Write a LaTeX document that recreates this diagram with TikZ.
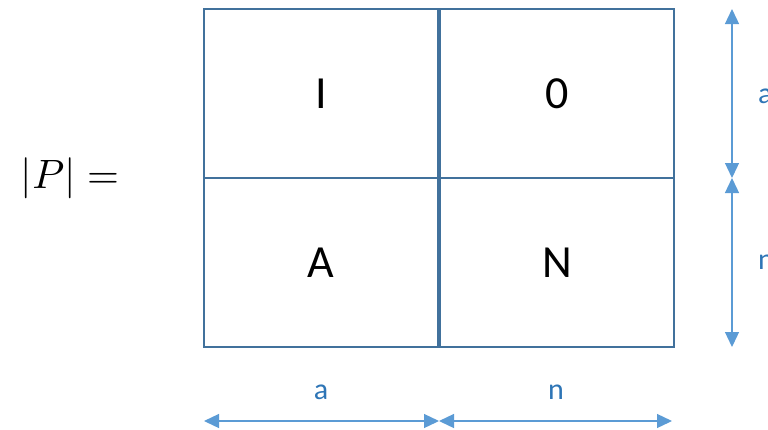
\documentclass[tikz,border=0pt]{standalone}
\usepackage{graphicx}
\usepackage{fontspec}
\setmainfont{Carlito}
\usetikzlibrary{arrows.meta}
\definecolor{boxc}{HTML}{41719C}
\definecolor{arrc}{HTML}{5B9BD5}
\definecolor{labc}{HTML}{2E75B6}
\tikzset{
  cell/.style={draw=boxc,line width=1.3pt,minimum width=234pt,minimum height=169pt,inner sep=0pt,
    font=\fontsize{46}{50}\selectfont,text=black},
  dim/.style={draw=arrc,line width=1.3pt,{Triangle[length=15pt,width=14pt]}-{Triangle[length=15pt,width=14pt]}},
  dimlab/.style={text=labc,font=\fontsize{30}{34}\selectfont,inner sep=0pt}
}
\begin{document}
\begin{tikzpicture}[x=1pt,y=-1pt]
\useasboundingbox (0,0) rectangle (768,429);
\node[cell] (c11) at (321,93.5) {I};
\node[cell] (c12) at (557,93.5) {0};
\node[cell] (c21) at (321,262.5) {A};
\node[cell] (c22) at (557,262.5) {N};
\node[inner sep=0pt] (p) at (70,178) {\scalebox{4.1}{$|P| =$}};
% vertical dimensions
\coordinate (v1) at (732,9);
\coordinate (v2) at (732,178);
\coordinate (v3) at (732,347);
\draw[dim] (v1) -- (v2);
\draw[dim] (v2) -- (v3);
\node[dimlab,anchor=west] (la) at (758,96) {a};
\node[dimlab,anchor=west] (ln) at (758,262) {n};
% horizontal dimensions
\coordinate (h1) at (204,421);
\coordinate (h2) at (439,421);
\coordinate (h3) at (672,421);
\draw[dim] (h1) -- (h2);
\draw[dim] (h2) -- (h3);
\node[dimlab] (ha) at (321,392) {a};
\node[dimlab] (hn) at (556,392) {n};
\end{tikzpicture}
\end{document}
